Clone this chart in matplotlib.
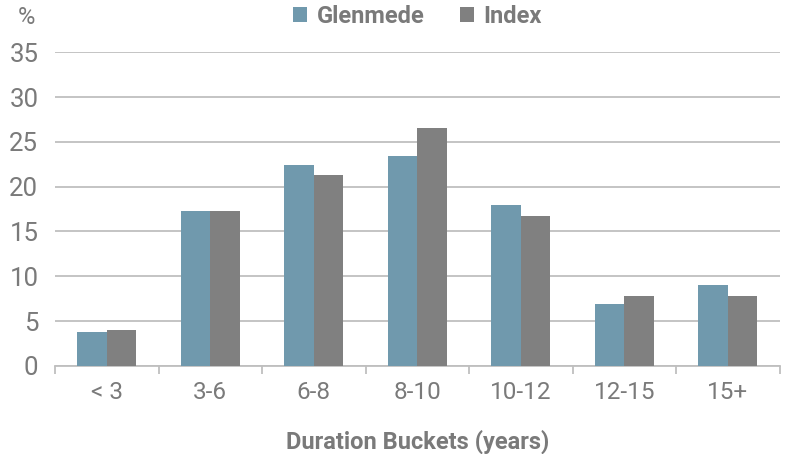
import numpy as np
import matplotlib.pyplot as plt
from matplotlib.ticker import FixedLocator

plt.rcParams['font.family'] = ['Roboto', 'DejaVu Sans']

buckets = ["< 3", "3-6", "6-8", "8-10", "10-12", "12-15", "15+"]
glenmede = [3.8, 17.3, 22.4, 23.4, 18.0, 6.9, 9.0]
index = [4.0, 17.3, 21.3, 26.6, 16.7, 7.8, 7.8]

COL_G = "#7099AD"
COL_I = "#808080"
TXT = "#7A7A7A"
GRID = "#BFBFBF"

fig = plt.figure(figsize=(7.86, 4.54), dpi=100)
ax = fig.add_axes([0.07, 0.194, 0.922, 0.691])

x = np.arange(len(buckets))
w = 0.285
ax.bar(x - w / 2, glenmede, width=w, color=COL_G, label="Glenmede", zorder=3)
ax.bar(x + w / 2, index, width=w, color=COL_I, label="Index", zorder=3)

ax.set_xlim(-0.5, len(buckets) - 0.5)
ax.set_ylim(0, 35)
ax.set_yticks(range(0, 36, 5))
ax.yaxis.grid(True, color=GRID, linewidth=1.3, zorder=0)

ax.set_xticks(x)
ax.set_xticklabels(buckets)
ax.xaxis.set_minor_locator(FixedLocator(np.arange(-0.5, len(buckets), 1)))
ax.tick_params(axis='x', which='major', length=0, pad=11, labelsize=17.5, labelcolor=TXT)
ax.tick_params(axis='x', which='minor', length=6, width=1.3, color=GRID)
ax.tick_params(axis='y', length=0, pad=12, labelsize=18.5, labelcolor=TXT)

for s in ["top", "right", "left"]:
    ax.spines[s].set_visible(False)
ax.spines["bottom"].set_color(GRID)
ax.spines["bottom"].set_linewidth(1.3)

ax.set_xlabel("Duration Buckets (years)", fontsize=17, color=TXT,
              fontweight='semibold', labelpad=18)
fig.text(0.033, 0.962, "%", fontsize=17, color=TXT, ha='center', va='center')

ax.legend(loc='center', bbox_to_anchor=(0.5, 1.115), ncol=2, frameon=False,
          labelcolor=TXT, handlelength=0.6, handleheight=0.6,
          handletextpad=0.4, columnspacing=1.5,
          prop={'weight': 'semibold', 'size': 17})

fig.savefig("out.png", dpi=100)
